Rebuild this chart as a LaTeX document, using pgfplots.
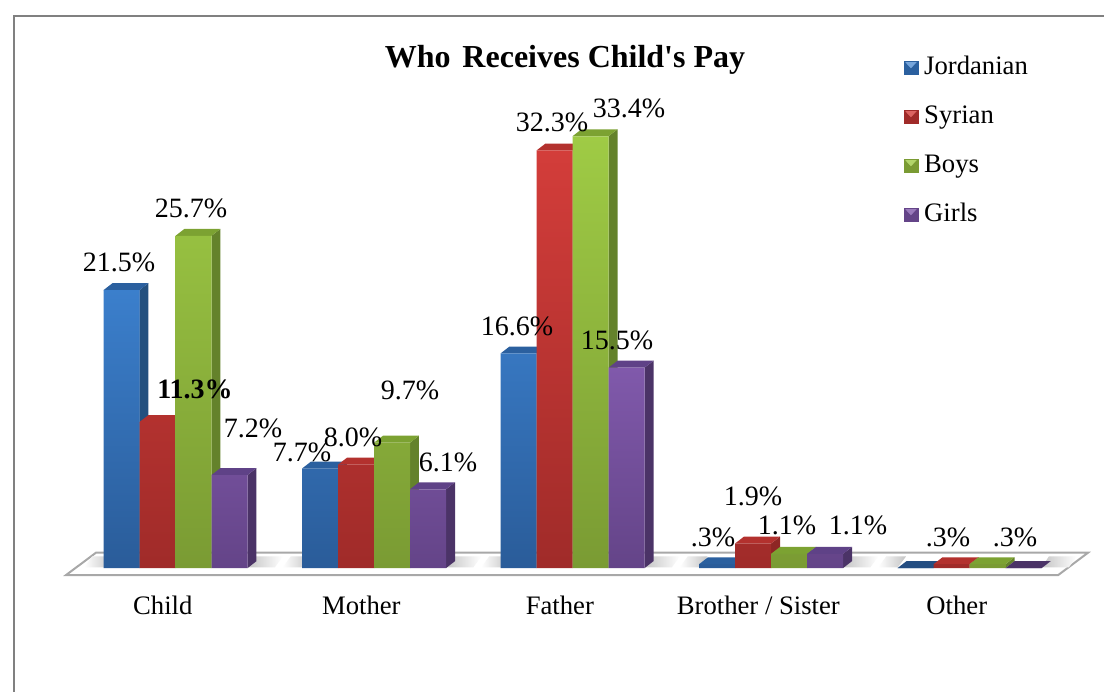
\documentclass[border=0pt]{standalone}
\usepackage{pgfplots}
\usepackage{pgfplotstable}
\usepackage{fontspec}
\setmainfont{Liberation Serif}
\newfontfamily\plainserif{Liberation Serif}
\pgfplotsset{compat=1.18}
\definecolor{blueT}{HTML}{3B7FCC}\definecolor{blueB}{HTML}{2A5C99}\definecolor{blueS}{HTML}{24507F}\definecolor{blueU}{HTML}{2B609F}
\definecolor{redT}{HTML}{D33D3A}\definecolor{redB}{HTML}{A02B29}\definecolor{redS}{HTML}{8E2624}\definecolor{redU}{HTML}{B3312E}
\definecolor{greenT}{HTML}{9FCB45}\definecolor{greenB}{HTML}{7A9B33}\definecolor{greenS}{HTML}{64822B}\definecolor{greenU}{HTML}{7CA232}
\definecolor{purpleT}{HTML}{8059AB}\definecolor{purpleB}{HTML}{644488}\definecolor{purpleS}{HTML}{4B3367}\definecolor{purpleU}{HTML}{5F4287}
\definecolor{frameG}{HTML}{808080}\definecolor{floorG}{HTML}{A8A8A8}\definecolor{shadeG}{HTML}{C4C4C4}
\pgfplotstableread{
k jordan syrian boys girls
0 21.5 11.3 25.7 7.2
1 7.7 8.0 9.7 6.1
2 16.6 32.3 33.4 15.5
3 0.3 1.9 1.1 1.1
4 0.0 0.3 0.3 0.0
}\datatable
% side and top faces of one bar: category, slot, value, side colour, top colour
\newcommand\depth[5]{%
  \pgfmathsetmacro\xr{#1+#2*0.18136+0.09068}%
  \pgfmathsetmacro\xl{\xr-0.18136}%
  \pgfmathsetmacro\xrb{\xr+0.0453}%
  \pgfmathsetmacro\xlb{\xl+0.0453}%
  \pgfmathsetmacro\yb{#3+0.54}%
  \addplot[fill=#4,draw=none,forget plot] coordinates {(\xr,0) (\xrb,0.54) (\xrb,\yb) (\xr,#3)} -- cycle;
  \addplot[fill=#5,draw=none,forget plot] coordinates {(\xl,#3) (\xlb,\yb) (\xrb,\yb) (\xr,#3)} -- cycle;
}
% label at picture position given in reference pixels
\newcommand\lbl[3]{\node[font=\fontsize{21}{25}\selectfont,inner sep=0pt] at (axis cs:{(#1-175.5)/198.5},{(568-#2)/12.93}) {#3};}
\pgfplotsset{legsq/.style 2 args={legend image code/.code={%
  \fill[#1] (0pt,-5.2pt) rectangle (10.5pt,5.2pt);
  \fill[#2] (1.5pt,4pt) -- (9pt,4pt) -- (5.25pt,0pt) -- cycle;}}}
\begin{document}
\begin{tikzpicture}
\begin{axis}[
  scale only axis, width=828pt, height=518.25pt,
  xmin=-0.88413, xmax=4.67758, ymin=-9.5128, ymax=43.929,
  axis line style={draw=none}, major tick length=0pt,
  ytick=\empty, xtick={0,1,2,3,4},
  xticklabels={Child,Mother,Father,Brother / Sister,Other},
  x tick label style={font=\fontsize{20}{24}\selectfont,yshift=75pt,xshift=-9.5pt},
  no markers,
  title={\fontsize{24}{28}\selectfont\plainserif\bfseries Who\hspace{.12em} Receives Child's Pay},
  title style={at={(0.5118,0.9016)},anchor=center,inner sep=0pt},
  legend style={draw=none,fill=none,at={(0.8183,0.9217)},anchor=north west,
    font=\fontsize{20}{24}\selectfont,
    nodes={text height=15pt,text depth=5pt,inner sep=0pt},
    /tikz/every odd column/.append style={column sep=4.5pt},
    row sep=16.75pt,inner sep=0pt},
  legend cell align=left,
]
% chart frame
\addplot[color=frameG,line width=1.9pt,forget plot] coordinates {(-0.8135,-9.6) (-0.8135,42.7) (4.7,42.7)};
% floor
\addplot[fill=white,draw=floorG,line width=1.5pt,forget plot] coordinates {(-0.5516,-0.54) (-0.4003,1.2) (4.5976,1.2) (4.4465,-0.54)} -- cycle;
% shadows on the floor
\pgfplotsinvokeforeach{0,1,2,3,4}{
  \addplot[left color=white,right color=shadeG,draw=none,forget plot] coordinates {(#1-0.46,0.05) (#1-0.42,0.9) (#1-0.32,0.9) (#1-0.362,0.05)} -- cycle;
  \addplot[left color=shadeG,right color=white,draw=none,forget plot] coordinates {(#1+0.362,0.05) (#1+0.40,0.9) (#1+0.54,0.9) (#1+0.50,0.05)} -- cycle;
}
% Jordanian
\depth{0}{-1.5}{21.5}{blueS}{blueU}\depth{1}{-1.5}{7.7}{blueS}{blueU}\depth{2}{-1.5}{16.6}{blueS}{blueU}\depth{3}{-1.5}{0.3}{blueS}{blueU}\depth{4}{-1.5}{0}{blueS}{blueB!85!black}
\addplot[ybar,bar width=27pt,bar shift=-40.5pt,top color=blueT,bottom color=blueB,draw=none,forget plot] table[x=k,y=jordan]{\datatable};
% Syrian
\depth{0}{-0.5}{11.3}{redS}{redU}\depth{1}{-0.5}{8.0}{redS}{redU}\depth{2}{-0.5}{32.3}{redS}{redU}\depth{3}{-0.5}{1.9}{redS}{redU}\depth{4}{-0.5}{0.3}{redS}{redU}
\addplot[ybar,bar width=27pt,bar shift=-13.5pt,top color=redT,bottom color=redB,draw=none,forget plot] table[x=k,y=syrian]{\datatable};
% Boys
\depth{0}{0.5}{25.7}{greenS}{greenU}\depth{1}{0.5}{9.7}{greenS}{greenU}\depth{2}{0.5}{33.4}{greenS}{greenU}\depth{3}{0.5}{1.1}{greenS}{greenU}\depth{4}{0.5}{0.3}{greenS}{greenU}
\addplot[ybar,bar width=27pt,bar shift=13.5pt,top color=greenT,bottom color=greenB,draw=none,forget plot] table[x=k,y=boys]{\datatable};
% Girls
\depth{0}{1.5}{7.2}{purpleS}{purpleU}\depth{1}{1.5}{6.1}{purpleS}{purpleU}\depth{2}{1.5}{15.5}{purpleS}{purpleU}\depth{3}{1.5}{1.1}{purpleS}{purpleU}\depth{4}{1.5}{0}{purpleS}{purpleS}
\addplot[ybar,bar width=27pt,bar shift=40.5pt,top color=purpleT,bottom color=purpleB,draw=none,forget plot] table[x=k,y=girls]{\datatable};
% legend
\addlegendimage{legsq={blueU}{blueT!70!white}}\addlegendentry{Jordanian}
\addlegendimage{legsq={redB}{redT!80!white}}\addlegendentry{Syrian}
\addlegendimage{legsq={greenB}{greenT!80!white}}\addlegendentry{Boys}
\addlegendimage{legsq={purpleB}{purpleT!80!white}}\addlegendentry{Girls}
% value labels
\lbl{119}{262}{21.5\%}\lbl{191}{208}{25.7\%}\lbl{195}{389}{\textbf{11.3\%}}\lbl{253}{428}{7.2\%}
\lbl{302}{452}{7.7\%}\lbl{353}{437}{8.0\%}\lbl{410}{390}{9.7\%}\lbl{448}{462}{6.1\%}
\lbl{517}{326}{16.6\%}\lbl{552}{122}{32.3\%}\lbl{629}{108}{33.4\%}\lbl{617}{340}{15.5\%}
\lbl{713}{537}{.3\%}\lbl{753}{496}{1.9\%}\lbl{787}{525}{1.1\%}\lbl{858}{525}{1.1\%}
\lbl{948}{537}{.3\%}\lbl{1015}{537}{.3\%}
\end{axis}
\end{tikzpicture}
\end{document}
